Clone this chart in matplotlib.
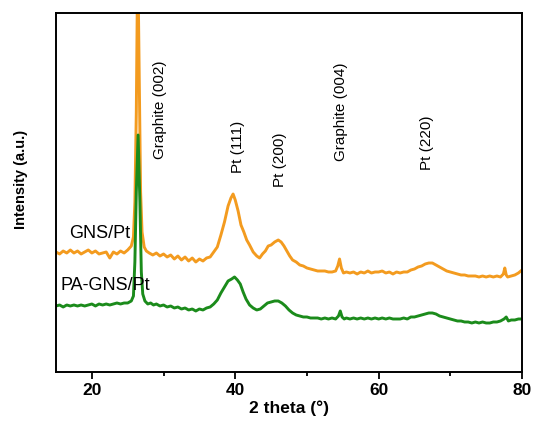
import matplotlib
matplotlib.use("Agg")
import matplotlib.pyplot as plt
from matplotlib.ticker import MultipleLocator, NullLocator
import numpy as np

plt.rcParams['font.family'] = ['Liberation Sans', 'DejaVu Sans']

# GNS/Pt pattern (2 theta in degrees, intensity in a.u.)
theta_gns = [15.0, 15.5, 16.0, 16.5, 17.0, 17.5, 18.0, 18.5, 19.0, 19.5, 20.0, 20.5, 21.0, 21.5,
             22.0, 22.5, 23.0, 23.5, 24.0, 24.5, 25.0, 25.5, 25.8, 26.0, 26.2, 26.4, 26.6, 26.8,
             27.0, 27.3, 27.6, 28.0, 28.5, 29.0, 29.5, 30.0, 30.5, 31.0, 31.5, 32.0, 32.5, 33.0,
             33.5, 34.0, 34.5, 35.0, 35.5, 36.0, 36.5, 37.0, 37.5, 38.0, 38.5, 39.0, 39.4, 39.7,
             40.0, 40.4, 40.8, 41.2, 41.6, 42.0, 42.5, 43.0, 43.4, 43.8, 44.2, 44.6, 45.0, 45.5,
             46.0, 46.4, 46.8, 47.2, 47.6, 48.0, 48.5, 49.0, 49.5, 50.0, 50.5, 51.0, 51.5, 52.0,
             52.5, 53.0, 53.5, 54.0, 54.3, 54.55, 54.8, 55.1, 55.5, 56.0, 56.5, 57.0, 57.5, 58.0,
             58.5, 59.0, 59.5, 60.0, 60.5, 61.0, 61.5, 62.0, 62.5, 63.0, 63.5, 64.0, 64.5, 65.0,
             65.5, 66.0, 66.5, 67.0, 67.5, 68.0, 68.5, 69.0, 69.5, 70.0, 70.5, 71.0, 71.5, 72.0,
             72.5, 73.0, 73.5, 74.0, 74.5, 75.0, 75.5, 76.0, 76.5, 77.0, 77.4, 77.6, 77.8, 78.0,
             78.5, 79.0, 79.5, 80.0]
int_gns = [120, 118, 121, 119, 122, 119, 121, 118, 120, 122, 119, 121, 118, 119,
           120, 114, 120, 118, 121, 119, 122, 126, 135, 170, 260, 420, 300, 180,
           140, 125, 121, 119, 117, 119, 116, 118, 115, 117, 113, 116, 112, 115,
           111, 114, 110, 113, 111, 114, 115, 120, 125, 137, 150, 166, 174, 178,
           172, 161, 147, 140, 132, 127, 120, 116, 114, 118, 121, 126, 127, 130,
           132, 130, 126, 121, 116, 112, 110, 107, 106, 104, 103, 102, 101, 101,
           101, 100, 100, 101, 106, 113, 104, 99, 100, 99, 100, 98, 100, 99,
           101, 99, 100, 100, 101, 99, 100, 98, 100, 99, 100, 100, 102, 103,
           105, 106, 108, 109, 109, 107, 105, 103, 101, 100, 99, 98, 97, 97,
           96, 96, 96, 95, 96, 95, 96, 95, 96, 95, 98, 104, 97, 95,
           96, 97, 99, 102]

# PA-GNS/Pt pattern
theta_pa = [15.0, 15.5, 16.0, 16.5, 17.0, 17.5, 18.0, 18.5, 19.0, 19.5, 20.0, 20.5, 21.0, 21.5,
            22.0, 22.5, 23.0, 23.5, 24.0, 24.5, 25.0, 25.5, 25.8, 26.0, 26.2, 26.45, 26.7, 26.9,
            27.1, 27.4, 27.8, 28.2, 28.6, 29.0, 29.5, 30.0, 30.5, 31.0, 31.5, 32.0, 32.5, 33.0,
            33.5, 34.0, 34.5, 35.0, 35.5, 36.0, 36.5, 37.0, 37.5, 38.0, 38.5, 39.0, 39.5, 39.9,
            40.3, 40.7, 41.1, 41.5, 42.0, 42.5, 43.0, 43.5, 44.0, 44.5, 45.0, 45.5, 46.0, 46.5,
            47.0, 47.5, 48.0, 48.5, 49.0, 49.5, 50.0, 50.5, 51.0, 51.5, 52.0, 52.5, 53.0, 53.5,
            54.0, 54.4, 54.65, 54.9, 55.2, 55.5, 56.0, 56.5, 57.0, 57.5, 58.0, 58.5, 59.0, 59.5,
            60.0, 60.5, 61.0, 61.5, 62.0, 62.5, 63.0, 63.5, 64.0, 64.5, 65.0, 65.5, 66.0, 66.5,
            67.0, 67.5, 68.0, 68.5, 69.0, 69.5, 70.0, 70.5, 71.0, 71.5, 72.0, 72.5, 73.0, 73.5,
            74.0, 74.5, 75.0, 75.5, 76.0, 76.5, 77.0, 77.5, 77.8, 78.1, 78.5, 79.0, 79.5, 80.0]
int_pa = [66, 67, 65, 67, 66, 67, 66, 67, 66, 67, 68, 66, 68, 67,
          68, 67, 68, 69, 68, 69, 69, 71, 76, 110, 180, 237, 170, 100,
          78, 71, 68, 69, 67, 68, 66, 67, 65, 66, 64, 65, 63, 64,
          62, 63, 61, 63, 62, 64, 65, 68, 72, 79, 85, 91, 93, 95,
          92, 88, 80, 73, 67, 64, 62, 63, 66, 69, 70, 71, 71, 69,
          66, 62, 59, 57, 56, 55, 55, 54, 54, 54, 53, 54, 53, 54,
          53, 56, 61, 55, 53, 54, 53, 54, 53, 54, 53, 54, 53, 54,
          53, 54, 53, 54, 53, 53, 53, 54, 53, 55, 55, 56, 57, 58,
          59, 59, 58, 56, 55, 54, 53, 52, 51, 51, 50, 50, 49, 50,
          49, 50, 49, 49, 50, 50, 51, 53, 55, 51, 52, 52, 53, 53]

peak_labels = ['Graphite (002)', 'Pt (111)', 'Pt (200)', 'Graphite (004)', 'Pt (220)']
peak_x = [29.5, 40.4, 46.3, 54.8, 66.7]
peak_y = [262, 225, 212, 260, 229]

fig = plt.figure(figsize=(5.35, 4.22), dpi=100)
ax = fig.add_axes([0.1047, 0.1185, 0.8710, 0.8507])

ax.plot(theta_gns, int_gns, color='#F39B1F', lw=2.1)
ax.plot(theta_pa, int_pa, color='#1B8B1B', lw=2.1)

ax.text(21.15, 138, 'GNS/Pt', fontsize=13, ha='center', va='center')
ax.text(21.85, 86, 'PA-GNS/Pt', fontsize=13, ha='center', va='center')
for lab, xx, yy in zip(peak_labels, peak_x, peak_y):
    ax.text(xx, yy, lab, fontsize=11, rotation=90, ha='center', va='center')

ax.set_xlim(15, 80)
ax.set_ylim(0, 359)
ax.xaxis.set_major_locator(MultipleLocator(20))
ax.xaxis.set_minor_locator(MultipleLocator(10))
ax.yaxis.set_major_locator(NullLocator())
ax.tick_params(axis='x', which='major', direction='out', length=5, width=1.3, pad=3,
               labelsize=12.5)
ax.tick_params(axis='x', which='minor', direction='out', length=3, width=1.3)
for lab in ax.get_xticklabels():
    lab.set_fontweight('bold')
for s in ax.spines.values():
    s.set_linewidth(1.4)

ax.set_xlabel('2 theta (°)', fontsize=12.5, fontweight='bold', labelpad=2)
ax.set_ylabel('Intensity (a.u.)', fontsize=10.5, fontweight='bold')
ax.yaxis.set_label_coords(-0.06, 0.535)

fig.savefig('out.png', dpi=100)
